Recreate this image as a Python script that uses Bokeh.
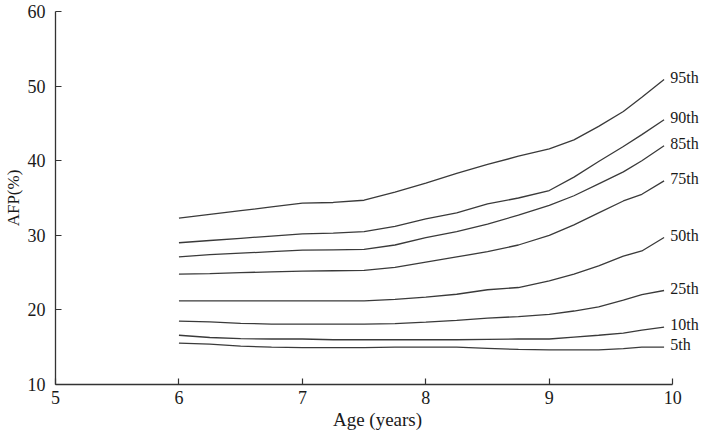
from bokeh.plotting import figure
from bokeh.models import FixedTicker, ColumnDataSource
from bokeh.embed import file_html
from bokeh.resources import INLINE
from bokeh.core.properties import value

# ---- data ----
ages = [6.0, 6.25, 6.5, 6.75, 7.0, 7.25, 7.5, 7.75, 8.0, 8.25, 8.5, 8.75, 9.0, 9.2, 9.4, 9.6, 9.75, 9.93]
p95 = [32.3, 32.8, 33.3, 33.8, 34.3, 34.4, 34.7, 35.8, 37.0, 38.3, 39.5, 40.6, 41.6, 42.8, 44.6, 46.6, 48.5, 50.9]
p90 = [29.0, 29.3, 29.6, 29.9, 30.2, 30.3, 30.5, 31.2, 32.2, 33.0, 34.2, 35.0, 36.0, 37.8, 39.9, 41.9, 43.5, 45.5]
p85 = [27.1, 27.4, 27.6, 27.8, 28.0, 28.05, 28.1, 28.7, 29.7, 30.5, 31.5, 32.7, 34.0, 35.3, 36.9, 38.5, 40.0, 42.0]
p75 = [24.8, 24.85, 25.0, 25.1, 25.2, 25.25, 25.3, 25.7, 26.4, 27.1, 27.8, 28.7, 30.0, 31.4, 33.0, 34.6, 35.5, 37.3]
p50 = [21.2, 21.2, 21.2, 21.2, 21.2, 21.2, 21.2, 21.4, 21.7, 22.1, 22.7, 23.0, 23.9, 24.8, 25.9, 27.2, 27.9, 29.7]
p25 = [18.5, 18.4, 18.2, 18.1, 18.1, 18.1, 18.1, 18.15, 18.35, 18.6, 18.9, 19.1, 19.4, 19.85, 20.4, 21.3, 22.05, 22.6]
p10 = [16.6, 16.3, 16.15, 16.1, 16.1, 16.0, 16.0, 16.0, 16.0, 16.0, 16.05, 16.1, 16.1, 16.35, 16.6, 16.9, 17.3, 17.7]
p05 = [15.55, 15.4, 15.15, 15.0, 14.95, 14.95, 14.95, 15.0, 15.0, 15.0, 14.85, 14.7, 14.65, 14.65, 14.65, 14.8, 15.0, 15.0]

series = [p95, p90, p85, p75, p50, p25, p10, p05]
percentile_labels = ["95th", "90th", "85th", "75th", "50th", "25th", "10th", "5th"]

x_ticks = [5, 6, 7, 8, 9, 10]
y_ticks = [10, 20, 30, 40, 50, 60]

FONT = "Liberation Serif"
LINE = "#3a3a3a"
TXT = "#1a1a1a"

p = figure(width=700, height=432, x_range=(5, 10.217), y_range=(10, 60),
           output_backend="svg", toolbar_location=None,
           min_border_left=50, min_border_right=1, min_border_top=11, min_border_bottom=10)
p.outline_line_color = None
p.xgrid.visible = False
p.ygrid.visible = False
p.background_fill_color = "white"
p.border_fill_color = "white"

for s in series:
    p.line(ages, s, line_color=LINE, line_width=1.3)

lab = ColumnDataSource(dict(
    x=[ages[-1] + 0.05] * len(series),
    y=[s[-1] + 0.3 for s in series],
    t=percentile_labels,
))
p.text(x="x", y="y", text="t", source=lab, text_font=value(FONT), text_font_size="16px",
       text_align="left", text_baseline="middle", text_color=TXT)

for ax in (p.xaxis[0], p.yaxis[0]):
    ax.axis_line_color = "#333333"
    ax.axis_line_width = 1.3
    ax.major_tick_line_color = "#333333"
    ax.major_tick_line_width = 1.2
    ax.major_tick_in = 6
    ax.major_tick_out = 0
    ax.minor_tick_line_color = None
    ax.major_label_text_font = FONT
    ax.major_label_text_font_size = "18px"
    ax.major_label_text_color = TXT
    ax.axis_label_text_font = FONT
    ax.axis_label_text_font_style = "normal"
    ax.axis_label_text_color = TXT

p.xaxis.axis_label_text_font_size = "19px"
p.yaxis.axis_label_text_font_size = "17px"
p.xaxis.ticker = FixedTicker(ticks=x_ticks)
p.yaxis.ticker = FixedTicker(ticks=y_ticks)
p.xaxis.bounds = (5, 10)
p.xaxis.axis_label = "Age (years)"
p.yaxis.axis_label = "AFP(%)"
p.xaxis.major_label_standoff = 6
p.yaxis.major_label_standoff = 10
p.xaxis.axis_label_standoff = 2
p.yaxis.axis_label_standoff = 2

open("out.html", "w").write(file_html(p, INLINE))
